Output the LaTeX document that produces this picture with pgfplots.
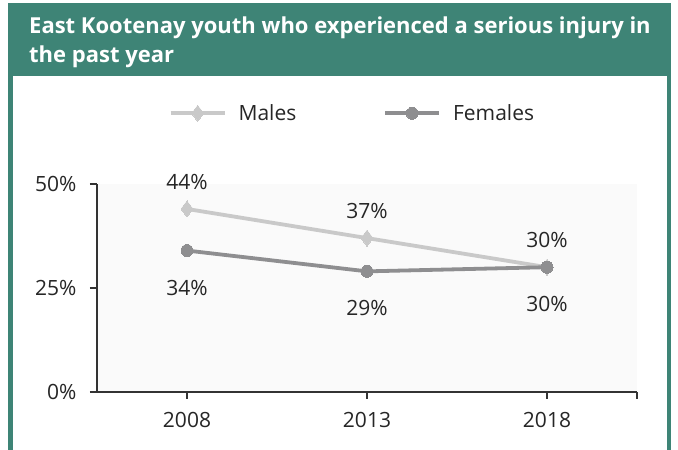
\documentclass[border=0pt]{standalone}
\usepackage{fontspec}
\setmainfont{Open Sans}
\usepackage{pgfplots}
\pgfplotsset{compat=1.18}
\definecolor{hdr}{HTML}{3E8476}
\definecolor{malec}{HTML}{C9C9C9}
\definecolor{femc}{HTML}{8E8E90}
\definecolor{axc}{HTML}{333333}
\begin{document}
\begin{tikzpicture}[x=1pt,y=1pt]
\fill[white] (0,0) rectangle (678,450);
\fill[hdr] (8,0) rectangle (671,447);
\fill[white] (13,0) rectangle (667,374);
\node[anchor=north west, align=left, text=white, font=\fontsize{22}{29}\selectfont\bfseries, inner sep=0pt] at (29,433)
 {East Kootenay youth who experienced a serious injury in\\the past year};
\begin{axis}[
  at={(97pt,58pt)}, anchor=south west,
  width=540pt, height=208pt, scale only axis,
  xmin=-0.5, xmax=2.5, ymin=0, ymax=50,
  axis lines=left,
  axis line style={-, draw=axc, line width=1.6pt},
  axis background/.style={fill=black!2},
  xtick={0,1,2,2.5}, xticklabels={2008,2013,2018,},
  ytick={0,25,50}, yticklabels={0\%,25\%,50\%},
  tick align=outside, major tick length=7pt,
  tick style={draw=axc, line width=1.6pt},
  ticklabel style={font=\fontsize{21}{24}\selectfont, text=black!85},
  xticklabel style={yshift=-10pt},
  yticklabel style={xshift=-10pt},
  clip=false,
  legend columns=2,
  legend style={at={(0.473,1.34)}, anchor=center, draw=none, fill=none,
    font=\fontsize{21}{24}\selectfont, text=black!85,
    /tikz/every even column/.append style={column sep=85pt},
    /tikz/every odd column/.append style={column sep=10pt},
    nodes={inner sep=2pt}},
  legend image code/.code={\draw[mark repeat=2,mark phase=2,#1] plot coordinates {(0pt,0pt)(27pt,0pt)(54pt,0pt)};},
  /pgf/number format/assume math mode=true,
  nodes near coords={\pgfmathprintnumber{\pgfplotspointmeta}\%},
  nodes near coords style={font=\fontsize{21}{24}\selectfont, text=black!85},
]
\addplot[color=malec, line width=3.8pt, mark=diamond*, mark size=8pt, mark options={fill=malec, draw=malec, line width=0pt},
  nodes near coords style={anchor=south, yshift=16pt}]
  coordinates {(0,44) (1,37) (2,30)};
\addlegendentry{Males}
\addplot[color=femc, line width=3.8pt, mark=*, mark size=6pt, mark options={fill=femc, draw=femc, line width=0pt},
  nodes near coords style={anchor=north, yshift=-26pt}]
  coordinates {(0,34) (1,29) (2,30)};
\addlegendentry{Females}
\end{axis}
\end{tikzpicture}
\end{document}
